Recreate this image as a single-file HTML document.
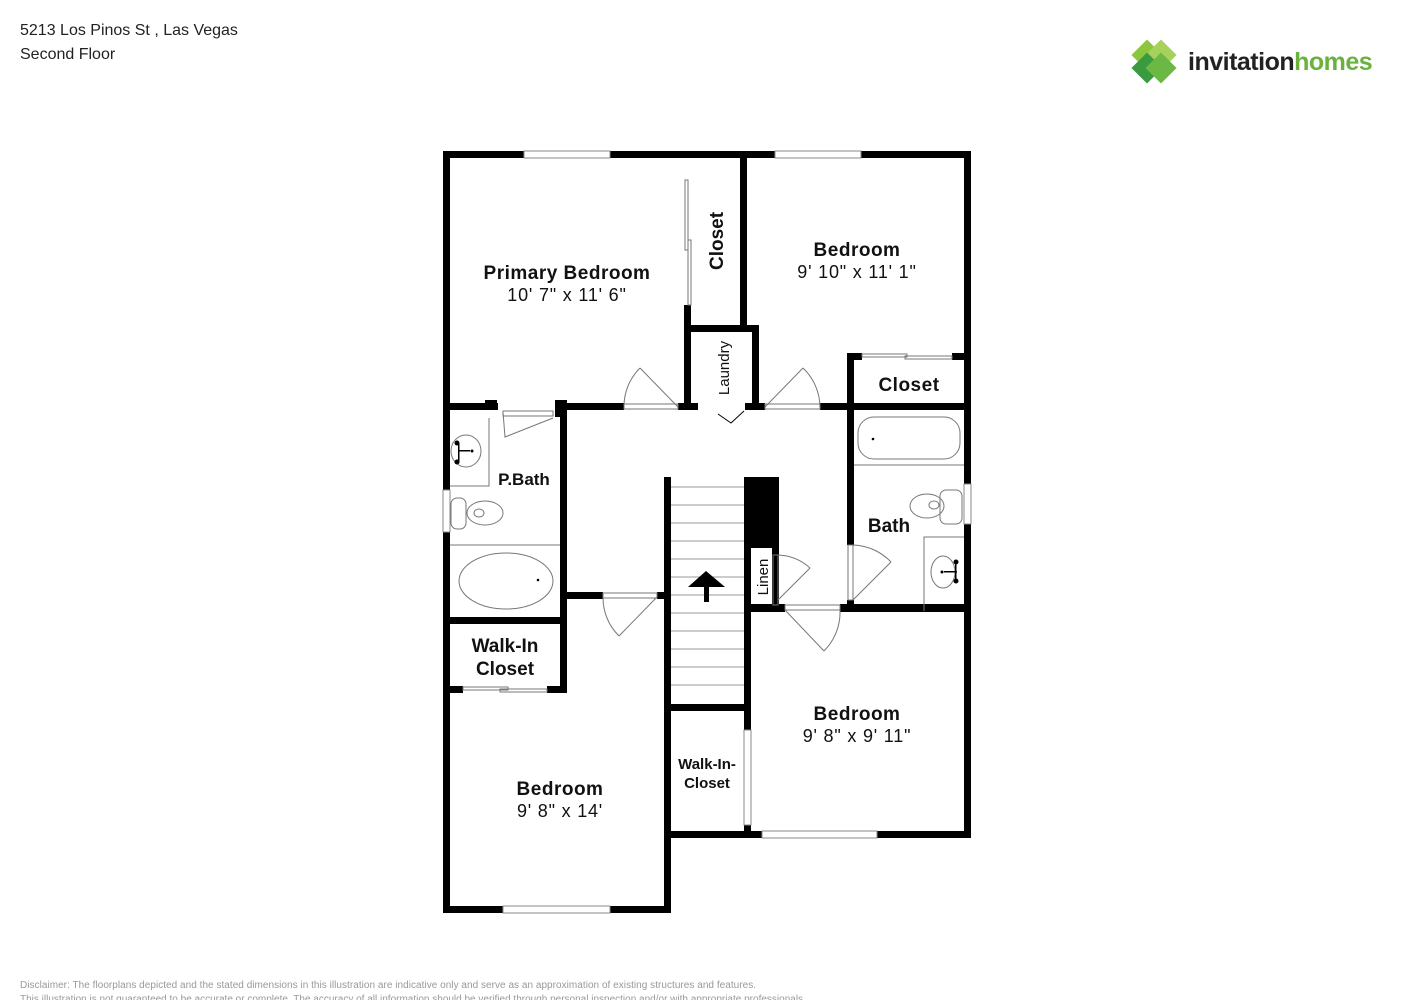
<!DOCTYPE html>
<html><head><meta charset="utf-8"><style>
html,body{margin:0;padding:0;background:#fff;}
body{width:1414px;height:1000px;overflow:hidden;position:relative;font-family:"Liberation Sans",Arial,sans-serif;}
.hd{position:absolute;left:20px;font-size:16px;color:#222;}
</style></head><body>
<div class="hd" style="top:22px">5213 Los Pinos St , Las Vegas</div>
<div class="hd" style="top:46px">Second Floor</div>
<svg width="1414" height="1000" style="position:absolute;left:0;top:0" font-family="Liberation Sans, Arial, sans-serif">
<g>
<rect x="1136" y="44" width="22" height="22" transform="rotate(45 1147 55)" fill="#8cc63f"/>
<rect x="1150" y="44" width="22" height="22" transform="rotate(45 1161 55)" fill="#a6d15a"/>
<rect x="1136" y="57" width="22" height="22" transform="rotate(45 1147 68)" fill="#3a9a40"/>
<rect x="1150" y="57" width="22" height="22" transform="rotate(45 1161 68)" fill="#6cb844"/>
<text x="1188" y="70" font-size="25" font-weight="bold" fill="#222" letter-spacing="-0.5">invitation<tspan fill="#6ab23e">homes</tspan></text>
</g>
<text x="20" y="988" font-size="10" fill="#999" textLength="736">Disclaimer: The floorplans depicted and the stated dimensions in this illustration are indicative only and serve as an approximation of existing structures and features.</text>
<text x="20" y="1002" font-size="10" fill="#999">This illustration is not guaranteed to be accurate or complete. The accuracy of all information should be verified through personal inspection and/or with appropriate professionals.</text>

<g fill="#000">
<rect x="443" y="151" width="528" height="7"/>
<rect x="443" y="151" width="7" height="762"/>
<rect x="964" y="151" width="7" height="687"/>
<rect x="443" y="906" width="227" height="7"/>
<rect x="664" y="831" width="307" height="7"/>
<rect x="664" y="477" width="7" height="436"/>
<rect x="740" y="158" width="7" height="172"/>
<rect x="684" y="305" width="7" height="105"/>
<rect x="684" y="325" width="75" height="7"/>
<rect x="752" y="325" width="7" height="85"/>
<rect x="443" y="403" width="55" height="7"/>
<rect x="485" y="400" width="12" height="10"/>
<rect x="555" y="400" width="12" height="17"/>
<rect x="560" y="403" width="64" height="7"/>
<rect x="678" y="403" width="20" height="7"/>
<rect x="745" y="403" width="20" height="7"/>
<rect x="820" y="403" width="151" height="7"/>
<rect x="847" y="353" width="15" height="7"/>
<rect x="952" y="353" width="19" height="7"/>
<rect x="847" y="353" width="7" height="192"/>
<rect x="847" y="600" width="7" height="11"/>
<rect x="744" y="604" width="41" height="8"/>
<rect x="840" y="604" width="131" height="8"/>
<rect x="560" y="403" width="7" height="290"/>
<rect x="443" y="617" width="124" height="7"/>
<rect x="443" y="686" width="20" height="7"/>
<rect x="547" y="686" width="20" height="7"/>
<rect x="560" y="592" width="43" height="7"/>
<rect x="657" y="592" width="10" height="7"/>
<rect x="744" y="477" width="35" height="71"/>
<rect x="744" y="477" width="7" height="361"/>
<rect x="772" y="548" width="7" height="60"/>
<rect x="664" y="704" width="86" height="7"/>
</g>
<g fill="#fff" stroke="#888" stroke-width="1">
<rect x="524" y="151" width="86" height="7"/>
<rect x="775" y="151" width="86" height="7"/>
<rect x="503" y="906" width="107" height="7"/>
<rect x="762" y="831" width="115" height="7"/>
<rect x="443" y="490" width="7" height="42"/>
<rect x="964" y="484" width="7" height="40"/>
<rect x="744" y="730" width="7" height="95"/>
</g>
<g fill="none" stroke="#777" stroke-width="1">
<rect x="685" y="180" width="3" height="70"/><rect x="688" y="240" width="3" height="65"/>
<rect x="862" y="354" width="45" height="3"/><rect x="905" y="356" width="47" height="3"/>
<rect x="463" y="687" width="45" height="3"/><rect x="500" y="689" width="47" height="3"/>
<rect x="624" y="404" width="54" height="5"/><path d="M678 407 L640 368 M624 407 A54 54 0 0 1 640 368"/>
<rect x="765" y="404" width="55" height="5"/><path d="M765 407 L803 368 M820 407 A55 55 0 0 0 803 368"/>
<rect x="503" y="411" width="50" height="5"/><path d="M503 412 L505 437 L553 418"/>
<rect x="603" y="593" width="54" height="5"/><path d="M657 597 L619 636 M603 597 A54 54 0 0 0 619 636"/>
<rect x="785" y="605" width="55" height="5"/><path d="M785 610 L824 651 M840 610 A55 55 0 0 1 824 651"/>
<rect x="848" y="545" width="5" height="55"/><path d="M853 600 L891 562 M853 545 A55 55 0 0 1 891 562"/>
<rect x="773" y="555" width="5" height="50"/><path d="M778 600 L810 568 M778 555 A50 50 0 0 1 810 568"/>
<path d="M718 414 L731 423 L744 411" stroke="#000"/>
<path d="M671 487H744M671 505H744M671 523H744M671 541H744M671 559H744M671 577H744M671 595H744M671 613H744M671 631H744M671 649H744M671 667H744M671 685H744" stroke="#999"/>
<path d="M450 486 H489 V418"/>
<ellipse cx="466" cy="451" rx="15" ry="16"/>
<rect x="451" y="498" width="15" height="31" rx="6"/>
<ellipse cx="485" cy="513" rx="18" ry="12"/><ellipse cx="479" cy="513" rx="5" ry="4"/>
<path d="M450 545 H560"/>
<ellipse cx="506" cy="581" rx="47" ry="28"/>
<rect x="858" y="417" width="102" height="42" rx="16"/>
<path d="M854 465 H964 M924 611 V537 H964"/>
<rect x="940" y="490" width="22" height="34" rx="6"/>
<ellipse cx="927" cy="506" rx="17" ry="12"/><ellipse cx="934" cy="505" rx="5" ry="4"/>
<ellipse cx="943" cy="572" rx="12" ry="16"/>
</g>
<g fill="#000">
<circle cx="873" cy="439" r="1.3"/><circle cx="538" cy="580" r="1.3"/>
<circle cx="472" cy="451" r="1.5"/><circle cx="942" cy="572" r="1.5"/>
<rect x="458" y="450" width="12" height="1.5"/><rect x="458" y="443" width="1.5" height="20"/>
<circle cx="457" cy="443" r="2.5"/><circle cx="457" cy="462" r="2.5"/>
<rect x="944" y="571" width="13" height="1.5"/><rect x="955" y="562" width="1.5" height="20"/>
<circle cx="956" cy="562" r="2.5"/><circle cx="956" cy="581" r="2.5"/>
<path d="M706 571 L725 587 L688 587 Z"/><rect x="704" y="587" width="5" height="15"/>
</g>
<g text-anchor="middle" fill="#111">
<text x="567" y="279" font-size="19" font-weight="bold" letter-spacing="0.5">Primary Bedroom</text>
<text x="567" y="301" font-size="18" letter-spacing="0.8">10' 7" x 11' 6"</text>
<text x="857" y="256" font-size="19" font-weight="bold" letter-spacing="0.5">Bedroom</text>
<text x="857" y="278" font-size="18" letter-spacing="0.8">9' 10" x 11' 1"</text>
<text x="909" y="391" font-size="19" font-weight="bold" letter-spacing="0.5">Closet</text>
<text x="524" y="485" font-size="17" font-weight="bold">P.Bath</text>
<text x="889" y="532" font-size="19" font-weight="bold">Bath</text>
<text x="505" y="652" font-size="19" font-weight="bold">Walk-In</text>
<text x="505" y="675" font-size="19" font-weight="bold">Closet</text>
<text x="560" y="795" font-size="19" font-weight="bold" letter-spacing="0.5">Bedroom</text>
<text x="560" y="817" font-size="18" letter-spacing="0.8">9' 8" x 14'</text>
<text x="857" y="720" font-size="19" font-weight="bold" letter-spacing="0.5">Bedroom</text>
<text x="857" y="742" font-size="18" letter-spacing="0.8">9' 8" x 9' 11"</text>
<text x="707" y="769" font-size="15" font-weight="bold">Walk-In-</text>
<text x="707" y="788" font-size="15" font-weight="bold">Closet</text>
<text transform="translate(723 241) rotate(-90)" font-size="19" font-weight="bold">Closet</text>
<text transform="translate(729 368) rotate(-90)" font-size="15">Laundry</text>
<text transform="translate(768 577) rotate(-90)" font-size="15">Linen</text>
</g>
</svg>
</body></html>
